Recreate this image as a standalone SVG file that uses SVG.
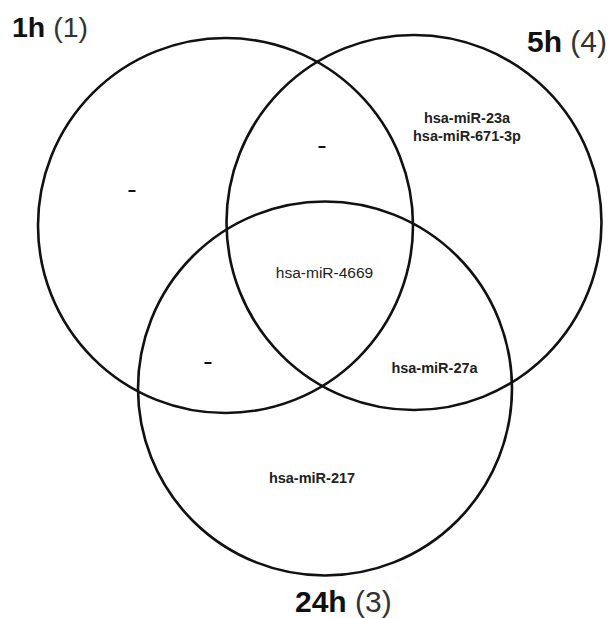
<svg xmlns="http://www.w3.org/2000/svg" width="610" height="618" viewBox="0 0 610 618">
  <style>
    .set { fill: none; stroke: #111; stroke-width: 2.6; }
    .title { font-family: "Liberation Sans", Arial, sans-serif; fill: #111; }
    .title .b { font-weight: bold; }
    .title .n { fill: #333; }
    .item { font-family: "Liberation Sans", Arial, sans-serif; font-size: 14.5px; fill: #222; text-anchor: middle; }
    .item.b { font-weight: bold; }
    .item.r { font-size: 15.5px; }
    .dash { stroke: #111; stroke-width: 2; }
  </style>
  <rect width="610" height="618" fill="#fff"/>

  <!-- set outlines -->
  <g id="connectors">
    <circle id="set-1h" class="set" cx="225.5" cy="225.5" r="187.5"/>
    <circle id="set-5h" class="set" cx="414" cy="222.5" r="187.5"/>
    <circle id="set-24h" class="set" cx="325" cy="388.5" r="187"/>
  </g>

  <!-- set titles -->
  <g id="label-1h">
    <text class="title" x="12" y="37" font-size="28.5"><tspan class="b">1h</tspan> <tspan class="n">(1)</tspan></text>
  </g>
  <g id="label-5h">
    <text class="title" x="527" y="52" font-size="30"><tspan class="b">5h</tspan> <tspan class="n">(4)</tspan></text>
  </g>
  <g id="label-24h">
    <text class="title" x="295" y="612" font-size="30"><tspan class="b">24h</tspan> <tspan class="n">(3)</tspan></text>
  </g>

  <!-- region contents -->
  <g id="only-1h"><line class="dash" x1="128.5" y1="191" x2="135.5" y2="191"/></g>
  <g id="1h-5h"><line class="dash" x1="318.5" y1="147" x2="325.5" y2="147"/></g>
  <g id="1h-24h"><line class="dash" x1="204.5" y1="363" x2="211.5" y2="363"/></g>
  <g id="only-5h">
    <text class="item b" x="467" y="123">hsa-miR-23a</text>
    <text class="item b" x="467" y="141">hsa-miR-671-3p</text>
  </g>
  <g id="all-three"><text class="item r" x="324.5" y="278">hsa-miR-4669</text></g>
  <g id="5h-24h"><text class="item b" x="434.5" y="373">hsa-miR-27a</text></g>
  <g id="only-24h"><text class="item b" x="312" y="483">hsa-miR-217</text></g>
</svg>
